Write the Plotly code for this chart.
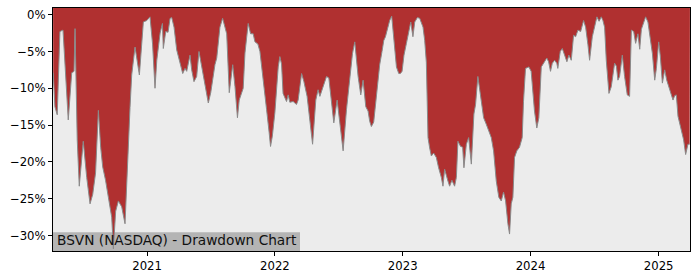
import numpy as np
import pandas as pd
import plotly.graph_objects as go

# Drawdown series: time in decimal years, drawdown in %
years = [
    2020.268, 2020.281, 2020.299, 2020.320, 2020.344, 2020.367, 2020.385, 2020.412, 2020.430, 2020.438,
    2020.455, 2020.471, 2020.490, 2020.502, 2020.529, 2020.555, 2020.576, 2020.598, 2020.620, 2020.638,
    2020.654, 2020.676, 2020.698, 2020.724, 2020.737, 2020.755, 2020.776, 2020.802, 2020.828, 2020.854,
    2020.867, 2020.880, 2020.906, 2020.924, 2020.940, 2020.971, 2020.998, 2021.023, 2021.043, 2021.062,
    2021.076, 2021.102, 2021.120, 2021.127, 2021.146, 2021.164, 2021.180, 2021.193, 2021.211, 2021.232,
    2021.258, 2021.279, 2021.297, 2021.310, 2021.336, 2021.349, 2021.367, 2021.388, 2021.406, 2021.420,
    2021.440, 2021.466, 2021.479, 2021.498, 2021.531, 2021.545, 2021.570, 2021.591, 2021.609, 2021.623,
    2021.643, 2021.662, 2021.670, 2021.688, 2021.707, 2021.721, 2021.734, 2021.752, 2021.766, 2021.791,
    2021.810, 2021.830, 2021.844, 2021.867, 2021.883, 2021.909, 2021.935, 2021.955, 2021.966, 2021.980,
    2022.000, 2022.026, 2022.039, 2022.052, 2022.064, 2022.091, 2022.104, 2022.117, 2022.143, 2022.169,
    2022.182, 2022.209, 2022.227, 2022.252, 2022.273, 2022.295, 2022.320, 2022.338, 2022.352, 2022.377,
    2022.404, 2022.422, 2022.443, 2022.461, 2022.487, 2022.508, 2022.534, 2022.560, 2022.586, 2022.607,
    2022.625, 2022.651, 2022.672, 2022.690, 2022.711, 2022.729, 2022.742, 2022.755, 2022.773, 2022.794,
    2022.820, 2022.838, 2022.852, 2022.865, 2022.883, 2022.898, 2022.914, 2022.930, 2022.943, 2022.951,
    2022.969, 2022.982, 2022.995, 2023.010, 2023.029, 2023.047, 2023.063, 2023.080, 2023.094, 2023.115,
    2023.133, 2023.159, 2023.172, 2023.185, 2023.198, 2023.211, 2023.224, 2023.242, 2023.263, 2023.281,
    2023.302, 2023.315, 2023.328, 2023.354, 2023.367, 2023.385, 2023.406, 2023.420, 2023.432, 2023.453,
    2023.469, 2023.479, 2023.498, 2023.516, 2023.537, 2023.557, 2023.570, 2023.588, 2023.609, 2023.633,
    2023.654, 2023.666, 2023.693, 2023.711, 2023.732, 2023.752, 2023.771, 2023.789, 2023.805, 2023.823,
    2023.836, 2023.849, 2023.862, 2023.875, 2023.893, 2023.914, 2023.935, 2023.945, 2023.961, 2023.987,
    2024.005, 2024.031, 2024.049, 2024.065, 2024.076, 2024.084, 2024.109, 2024.127, 2024.141, 2024.156,
    2024.170, 2024.188, 2024.205, 2024.213, 2024.232, 2024.248, 2024.266, 2024.284, 2024.299, 2024.318,
    2024.336, 2024.352, 2024.370, 2024.391, 2024.414, 2024.430, 2024.448, 2024.461, 2024.482, 2024.500,
    2024.518, 2024.535, 2024.552, 2024.565, 2024.578, 2024.591, 2024.612, 2024.630, 2024.656, 2024.670,
    2024.682, 2024.695, 2024.716, 2024.734, 2024.755, 2024.773, 2024.787, 2024.805, 2024.820, 2024.838,
    2024.852, 2024.865, 2024.877, 2024.898, 2024.916, 2024.935, 2024.951, 2024.969, 2024.982, 2025.000,
    2025.013, 2025.029, 2025.047, 2025.063, 2025.080, 2025.099, 2025.112, 2025.125, 2025.138, 2025.151,
    2025.170, 2025.185, 2025.195, 2025.211, 2025.229, 2025.242,
]
drawdown = [
    -7.9, -12.5, -13.6, -2.3, -2.1, -9.3, -14.3, -7.9, -7.7, -1.9,
    -17.0, -23.3, -19.4, -17.2, -22.1, -25.7, -24.4, -21.5, -13.0, -18.0,
    -20.7, -22.5, -24.8, -27.5, -31.8, -26.7, -25.3, -26.1, -28.4, -16.7,
    -12.6, -8.2, -4.4, -6.4, -8.2, -1.0, -0.8, -0.3, -4.0, -10.0,
    -6.2, -2.5, -1.2, -4.6, -2.3, -2.4, -0.5, -0.4, -1.7, -4.8,
    -6.4, -8.0, -7.3, -7.7, -5.5, -7.5, -9.1, -8.4, -5.0, -6.4,
    -8.4, -11.1, -12.0, -10.6, -6.8, -5.9, -1.7, -0.5, -1.7, -2.6,
    -10.6, -7.5, -6.8, -9.8, -14.0, -11.6, -11.0, -10.0, -5.2, -1.2,
    -2.6, -2.6, -3.7, -4.0, -5.0, -8.6, -12.9, -16.0, -17.9, -16.5,
    -13.3, -7.1, -5.7, -6.7, -10.7, -11.8, -10.9, -11.9, -11.8, -12.2,
    -11.6, -8.0, -9.1, -11.1, -14.3, -17.6, -11.6, -10.2, -11.1, -9.8,
    -8.4, -8.6, -11.6, -14.7, -11.6, -14.7, -18.5, -12.9, -8.6, -5.3,
    -3.7, -8.4, -10.9, -8.9, -12.5, -13.1, -14.5, -15.2, -14.6, -11.2,
    -6.8, -5.0, -3.5, -3.0, -1.9, -0.8, -0.2, -3.0, -5.0, -7.1,
    -8.0, -8.0, -7.7, -5.5, -3.9, -2.5, -1.0, -3.0, -1.0, -0.4,
    -0.5, -1.7, -3.5, -6.5, -16.7, -18.1, -19.2, -18.8, -19.4, -20.8,
    -22.1, -23.3, -21.0, -22.6, -23.3, -22.5, -23.3, -22.1, -17.2, -17.9,
    -18.0, -20.8, -17.6, -16.7, -20.3, -13.5, -12.2, -8.4, -11.4, -14.0,
    -14.9, -15.4, -16.7, -18.5, -22.6, -24.8, -25.3, -24.1, -25.3, -28.4,
    -29.8, -25.7, -24.8, -19.4, -18.5, -18.0, -16.7, -11.8, -7.3, -7.1,
    -7.7, -13.1, -15.4, -14.0, -10.0, -7.1, -6.4, -5.9, -6.4, -7.7,
    -6.6, -6.2, -6.6, -7.3, -5.0, -4.6, -5.5, -6.4, -5.5, -6.2,
    -2.8, -3.0, -2.1, -2.3, -0.8, -1.7, -4.1, -6.2, -3.0, -1.4,
    -0.3, -0.9, -0.3, -0.8, -1.7, -6.2, -10.7, -9.8, -6.6, -7.0,
    -8.9, -8.4, -5.5, -8.4, -10.9, -11.1, -2.1, -2.3, -3.9, -2.6,
    -4.7, -2.0, -1.4, -0.3, -1.0, -3.0, -5.3, -8.9, -7.3, -3.7,
    -5.7, -9.3, -7.5, -8.9, -9.8, -11.1, -11.6, -11.0, -10.9, -13.8,
    -15.2, -16.0, -17.0, -19.0, -17.6, -17.6,
]
x_tick_years = [2021, 2022, 2023, 2024, 2025]
y_tick_values = [0, -5, -10, -15, -20, -25, -30]
y_tick_labels = ["0%", "\u22125%", "\u221210%", "\u221215%", "\u221220%", "\u221225%", "\u221230%"]
title_text = "BSVN (NASDAQ) - Drawdown Chart"


def yr2dt(y):
    yr = int(np.floor(y))
    start = pd.Timestamp(year=yr, month=1, day=1)
    end = pd.Timestamp(year=yr + 1, month=1, day=1)
    return start + (end - start) * (y - yr)


dates = [yr2dt(y) for y in years]
x_range = [yr2dt(2020.266), yr2dt(2025.245)]
y_range = [-32.1, 0.9]

RED = "#b03030"
BG = "#ececec"

fig = go.Figure()
# top boundary (invisible) so the red fill reaches the top of the plot
fig.add_trace(go.Scatter(
    x=[x_range[0], x_range[1]], y=[5, 5], mode="lines",
    line=dict(width=0, color=RED), hoverinfo="skip", showlegend=False,
))
fig.add_trace(go.Scatter(
    x=dates, y=drawdown, mode="lines",
    line=dict(color="#8a8a8a", width=1),
    fill="tonexty", fillcolor=RED, showlegend=False,
))

# label box sits beneath the data, text on top
fig.add_shape(
    type="rect", xref="paper", yref="paper", layer="below",
    x0=0, x1=247 / 637, y0=0, y1=19 / 245,
    fillcolor="#b4b4b4", line=dict(width=0),
)
fig.add_annotation(
    text=title_text, xref="paper", yref="paper", x=0, y=0,
    xanchor="left", yanchor="bottom", showarrow=False,
    xshift=1, yshift=0, borderpad=2,
    font=dict(family="DejaVu Sans", size=13.7, color="#111111"),
)

fig.update_layout(
    width=700, height=280,
    margin=dict(l=53, r=10, t=7, b=28),
    paper_bgcolor="white", plot_bgcolor=BG,
    font=dict(family="DejaVu Sans", size=11.7, color="black"),
    showlegend=False,
)
fig.update_xaxes(
    range=x_range, showgrid=False, zeroline=False,
    tickvals=[pd.Timestamp(year=y, month=1, day=1) for y in x_tick_years],
    ticktext=[str(y) for y in x_tick_years],
    ticks="outside", ticklen=4, tickwidth=1, tickcolor="black",
    showline=True, linecolor="black", linewidth=1, mirror=True,
)
fig.update_yaxes(
    range=y_range, showgrid=False, zeroline=False,
    tickvals=y_tick_values, ticktext=y_tick_labels,
    ticks="outside", ticklen=4, tickwidth=1, tickcolor="black",
    showline=True, linecolor="black", linewidth=1, mirror=True,
)

fig.write_html("out.html")
